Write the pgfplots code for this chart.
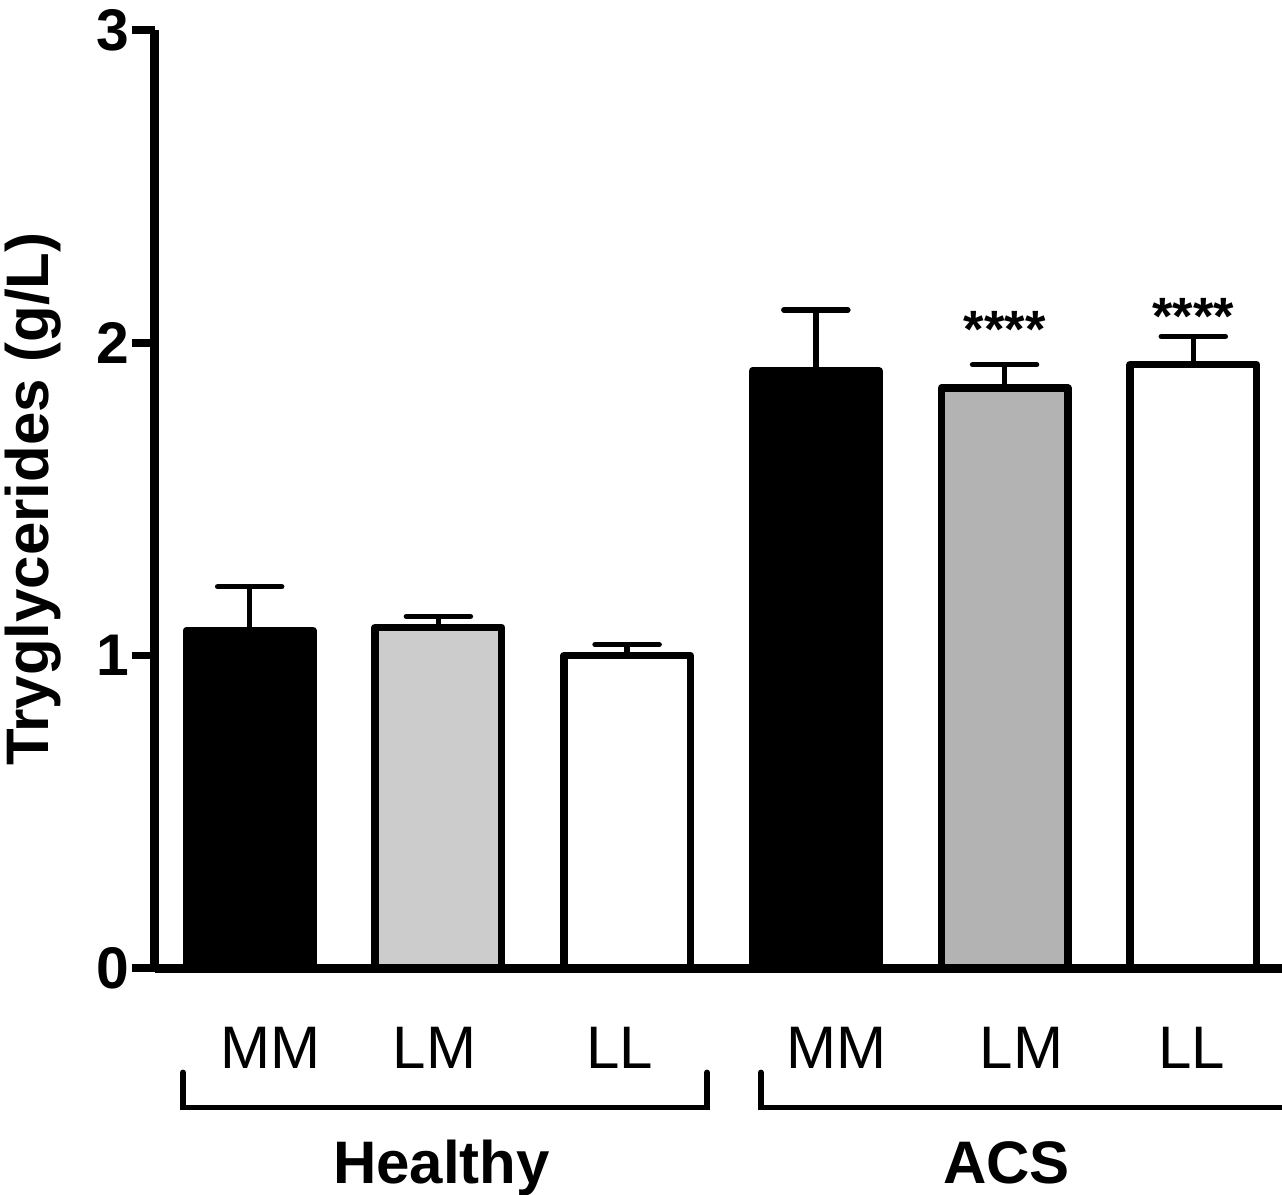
\documentclass[border=0pt]{standalone}
\usepackage{fontspec}
\setmainfont{Liberation Sans}
\usepackage{pgfplots}
\pgfplotsset{compat=1.18}
\definecolor{lgray}{HTML}{CCCCCC}
\definecolor{mgray}{HTML}{B3B3B3}
\pgfplotsset{mybar/.style={ybar, bar width=0.67, bar shift=0pt, line width=3pt, draw=black, line join=round,
  error bars/y dir=plus, error bars/y explicit,
  error bars/error bar style={line width=2.2pt, black},
  error bars/error mark options={rotate=90, mark size=12.8pt, line width=2.2pt, black, line cap=round}}}
\begin{document}
\begin{tikzpicture}
\begin{axis}[
  scale only axis,
  width=450.8pt, height=375.2pt,
  xmin=-0.503, xmax=5.47, ymin=0, ymax=3,
  axis x line=bottom, axis y line=left,
  axis line style={line width=3.6pt, -},
  xtick=\empty,
  ytick={0,1,2,3},
  tick align=outside,
  major tick length=9.2pt,
  ytick style={line width=3pt, black},
  tick label style={font=\fontsize{23.5}{26}\selectfont\bfseries},
  /pgf/number format/assume math mode=true,
  yticklabel style={inner sep=1pt},
  ylabel={Tryglycerides (g/L)},
  ylabel style={font=\fontsize{24}{28}\selectfont\bfseries, at={(axis description cs:-0.108,0.5)}, anchor=center},
  clip=false,
]
\addplot[fill=black, mybar] coordinates {(0,1.08) +- (0,0.14)};
\addplot[fill=lgray, mybar] coordinates {(1,1.09) +- (0,0.035)};
\addplot[fill=white, mybar] coordinates {(2,1.00) +- (0,0.035)};
\addplot[fill=black, mybar] coordinates {(3,1.91) +- (0,0.195)};
\addplot[fill=mgray, mybar] coordinates {(4,1.855) +- (0,0.075)};
\addplot[fill=white, mybar] coordinates {(5,1.93) +- (0,0.09)};

\node[font=\fontsize{21}{24}\selectfont\bfseries, anchor=base] at (axis cs:4,1.985) {****};
\node[font=\fontsize{21}{24}\selectfont\bfseries, anchor=base] at (axis cs:5,2.025) {****};

\node[font=\fontsize{24}{28}\selectfont, anchor=base] at (axis cs:0.11,-0.32) {MM};
\node[font=\fontsize{24}{28}\selectfont, anchor=base] at (axis cs:0.98,-0.32) {LM};
\node[font=\fontsize{24}{28}\selectfont, anchor=base] at (axis cs:1.96,-0.32) {LL};
\node[font=\fontsize{24}{28}\selectfont, anchor=base] at (axis cs:3.11,-0.32) {MM};
\node[font=\fontsize{24}{28}\selectfont, anchor=base] at (axis cs:4.09,-0.32) {LM};
\node[font=\fontsize{24}{28}\selectfont, anchor=base] at (axis cs:4.99,-0.32) {LL};

\draw[line width=2.2pt, line cap=round] (axis cs:-0.354,-0.333) -- (axis cs:-0.354,-0.445) -- (axis cs:2.423,-0.445) -- (axis cs:2.423,-0.333);
\draw[line width=2.2pt, line cap=round] (axis cs:2.709,-0.333) -- (axis cs:2.709,-0.445) -- (axis cs:5.47,-0.445);

\node[font=\fontsize{24}{28}\selectfont\bfseries, anchor=base] at (axis cs:1.016,-0.688) {Healthy};
\node[font=\fontsize{24}{28}\selectfont\bfseries, anchor=base] at (axis cs:4.01,-0.688) {ACS};

\coordinate (BL) at (axis cs:-1.323,-0.723);
\coordinate (TR) at (axis cs:5.47,3.096);
\end{axis}
\pgfresetboundingbox
\useasboundingbox (BL) rectangle (TR);
\end{tikzpicture}
\end{document}
